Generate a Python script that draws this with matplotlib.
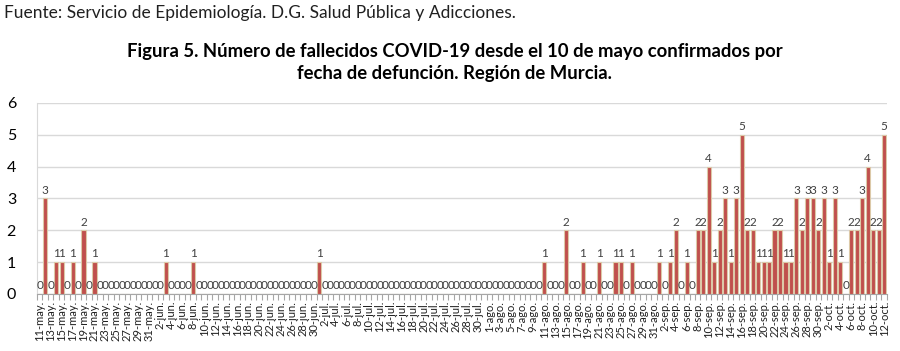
import matplotlib
matplotlib.use("Agg")
import matplotlib.pyplot as plt
import numpy as np
import pandas as pd

plt.rcParams['font.family'] = ['Lato', 'DejaVu Sans']

# ---- data ----
start_date = "2020-05-11"
end_date = "2020-10-12"
month_abbr = {5: "may.", 6: "jun.", 7: "jul.", 8: "ago.", 9: "sep.", 10: "oct."}

deaths_may = [0, 3, 0, 1, 1, 0, 1, 0, 2, 0, 1, 0, 0, 0, 0, 0, 0, 0, 0, 0, 0]  # 11-31 may
deaths_jun = [0, 0, 1, 0, 0, 0, 0, 1, 0, 0, 0, 0, 0, 0, 0, 0, 0, 0, 0, 0,
              0, 0, 0, 0, 0, 0, 0, 0, 0, 0]
deaths_jul = [1, 0, 0, 0, 0, 0, 0, 0, 0, 0, 0, 0, 0, 0, 0, 0, 0, 0, 0, 0,
              0, 0, 0, 0, 0, 0, 0, 0, 0, 0, 0]
deaths_ago = [0, 0, 0, 0, 0, 0, 0, 0, 0, 0, 1, 0, 0, 0, 2, 0, 0, 1, 0, 0,
              1, 0, 0, 1, 1, 0, 1, 0, 0, 0, 0]
deaths_sep = [1, 0, 1, 2, 0, 1, 0, 2, 2, 4, 1, 2, 3, 1, 3, 5, 2, 2, 1, 1,
              1, 2, 2, 1, 1, 3, 2, 3, 3, 2]
deaths_oct = [3, 1, 3, 1, 0, 2, 2, 3, 4, 2, 2, 5]  # 1-12 oct

source_text = "Fuente: Servicio de Epidemiología. D.G. Salud Pública y Adicciones."
title_text = ("Figura 5. Número de fallecidos COVID-19 desde el 10 de mayo confirmados por\n"
              "fecha de defunción. Región de Murcia.")

values = deaths_may + deaths_jun + deaths_jul + deaths_ago + deaths_sep + deaths_oct
dates = pd.date_range(start_date, end_date, freq="D")
labels = [f"{d.day}-{month_abbr[d.month]}" for d in dates]
x = np.arange(len(values))

# ---- figure ----
fig = plt.figure(figsize=(9.0, 3.51), dpi=100)
ax = fig.add_axes([0.041, 0.1624, 0.9445, 0.5442])

ax.bar(x, values, width=0.74, color="#C0504D", edgecolor="#DCC9A8", linewidth=0.8, zorder=3)

for xi, v in zip(x, values):
    ax.annotate(str(v), (xi, v), xytext=(0, 2), textcoords="offset points",
                ha="center", va="bottom", fontsize=8.5, color="#404040", zorder=4)

ax.set_xlim(-0.5, len(values) - 0.5)
ax.set_ylim(0, 6)
ax.set_yticks(range(0, 7))
ax.yaxis.grid(True, color="#D9D9D9", linewidth=1.0, zorder=0)
ax.set_axisbelow(True)

ax.set_xticks(x[::2])
ax.set_xticklabels(labels[::2], rotation=90, fontsize=8, color="#202020")
ax.set_xticks(np.arange(len(values) + 1) - 0.5, minor=True)
ax.tick_params(axis="x", which="major", length=0, pad=5)
ax.tick_params(axis="x", which="minor", length=4, color="#A6A6A6", width=0.8)
ax.tick_params(axis="y", length=0, labelsize=11.5, pad=15, labelcolor="#000000")

for s in ["top", "right"]:
    ax.spines[s].set_visible(False)
ax.spines["left"].set_color("#D9D9D9")
ax.spines["bottom"].set_color("#A6A6A6")

fig.text(0.005, 0.962, source_text, ha="left", va="center", fontsize=12.5, color="#202020")
fig.text(0.505, 0.765, title_text, ha="center", va="bottom", fontsize=13.3,
         fontweight="bold", color="#000000", linespacing=1.4)

fig.savefig("out.png", dpi=100)
